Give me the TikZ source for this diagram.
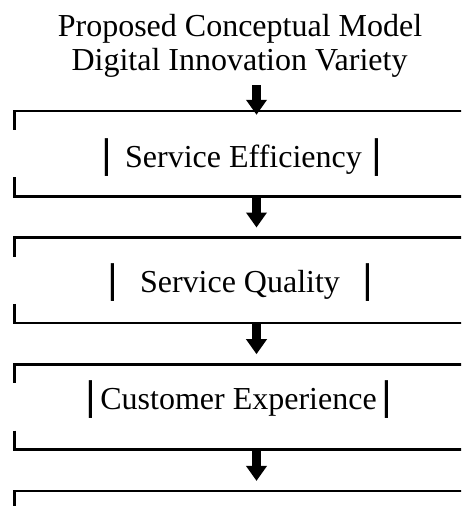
\documentclass[tikz,border=0pt]{standalone}
\usepackage{fontspec}
\setmainfont{Liberation Serif}
\usetikzlibrary{arrows.meta}
\newcommand{\thickbar}{\scalebox{2}[1.3]{|}}

\begin{document}
\begin{tikzpicture}[x=1pt,y=1pt,
	box/.style={rectangle, draw=none, inner sep=0pt, minimum width=484pt, minimum height=85pt},
	lbl/.style={anchor=base, inner sep=0pt, font=\fontsize{32pt}{34pt}\selectfont},
	frame/.style={draw=black, line width=2.6pt},
	flow/.style={line width=9pt, -{Triangle[length=15pt,width=20pt]}}]
			\useasboundingbox (0,0) rectangle (461,-506);
			\clip (0,0) rectangle (461,-506);
			% heading
			\node[lbl] (t1) at (240,-36) {Proposed Conceptual Model};
			\node[lbl] (t2) at (239.5,-70) {Digital Innovation Variety};
			% stages
			\node[box] (ef) at (256.5,-153.5) {};
			\node[box] (sq) at (256.5,-280.2) {};
			\node[box] (ce) at (256.5,-406.9) {};
			\node[box] (nx) at (256.5,-533.6) {};
			\node[lbl] (eft) at (242,-167) {\thickbar\hspace{12pt}Service Efficiency\hspace{9pt}\thickbar};
			\node[lbl] (sqt) at (240.5,-292) {\thickbar\hspace{21pt}Service Quality\hspace{22pt}\thickbar};
			\node[lbl] (cet) at (239,-409) {\thickbar\hspace{3pt}Customer Experience\hspace{4pt}\thickbar};
			\foreach \b in {ef,sq,ce,nx}
				\draw[frame] (\b.north east) -- (\b.north west) -- ([yshift=-19pt]\b.north west)
				([yshift=19pt]\b.south west) -- (\b.south west) -- (\b.south east);
			% arrows
			\draw[flow] ([yshift=-8pt]t2.south -| ef.north) -- ([yshift=-4pt]ef.north);
			\draw[flow] (ef.south) -- ([yshift=10pt]sq.north);
			\draw[flow] (sq.south) -- ([yshift=10pt]ce.north);
			\draw[flow] (ce.south) -- ([yshift=10pt]nx.north);
		\end{tikzpicture}
\end{document}
